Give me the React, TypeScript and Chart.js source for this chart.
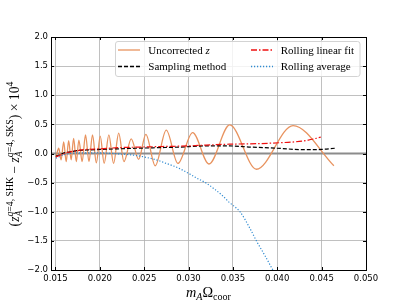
import React, { useEffect, useRef } from 'react';
import { Chart, registerables } from 'chart.js';

Chart.register(...registerables);

// ---------- data ----------
const xTicks = [0.015, 0.02, 0.025, 0.03, 0.035, 0.04, 0.045, 0.05];
const yTicks = [-2, -1.5, -1, -0.5, 0, 0.5, 1, 1.5, 2];
const xMin = 0.0145;
const xMax = 0.05;
const yMin = -2;
const yMax = 2;

const uncorrX = [
  0.01506, 0.01537, 0.01564, 0.01593, 0.01621, 0.01649, 0.01677, 0.01705, 0.01735, 0.01764,
  0.01801, 0.01839, 0.01878, 0.01918, 0.01961, 0.02005, 0.02049, 0.02102, 0.02155, 0.02213,
  0.02272, 0.02354, 0.02437, 0.02519, 0.02625, 0.02749, 0.0288, 0.03046, 0.0323, 0.03464,
  0.03765, 0.04178, 0.04638,
];
const uncorrY = [
  -0.065, 0.09, -0.11, 0.2, -0.14, 0.22, -0.11, 0.26, -0.14, 0.23,
  -0.14, 0.32, -0.14, 0.32, -0.16, 0.3, -0.17, 0.32, -0.17, 0.35,
  -0.14, 0.25, -0.1, 0.33, -0.21, 0.4, -0.17, 0.36, -0.18, 0.49,
  -0.27, 0.48, -0.21,
];

const samplingX = [
  0.01505, 0.0155, 0.016, 0.0167, 0.0175, 0.0185, 0.02, 0.022, 0.024, 0.0265,
  0.029, 0.032, 0.0346, 0.037, 0.04, 0.043, 0.045, 0.0465,
];
const samplingY = [
  -0.05, -0.02, 0.01, 0.03, 0.05, 0.06, 0.07, 0.08, 0.09, 0.1,
  0.11, 0.13, 0.13, 0.11, 0.09, 0.065, 0.07, 0.09,
];

const linfitX = [
  0.01505, 0.0155, 0.016, 0.0167, 0.0175, 0.0185, 0.02, 0.022, 0.0245, 0.027,
  0.03, 0.032, 0.0346, 0.038, 0.0403, 0.042, 0.0435, 0.0449,
];
const linfitY = [
  -0.06, -0.03, 0.0, 0.03, 0.05, 0.07, 0.08, 0.1, 0.11, 0.12,
  0.13, 0.145, 0.16, 0.17, 0.185, 0.2, 0.23, 0.28,
];

const rollavgX = [
  0.01505, 0.0155, 0.016, 0.0166, 0.0175, 0.0185, 0.02, 0.0215, 0.0233, 0.0247,
  0.0256, 0.0266, 0.0273, 0.0284, 0.029, 0.03, 0.0309, 0.032, 0.033, 0.0338,
  0.0346, 0.0358, 0.0369, 0.03765, 0.0386, 0.0395, 0.0404,
];
const rollavgY = [
  -0.08, -0.05, -0.02, 0.0, 0.01, 0.01, 0.01, 0.0, -0.02, -0.05,
  -0.08, -0.12, -0.16, -0.22, -0.26, -0.34, -0.42, -0.51, -0.62, -0.72,
  -0.84, -1.0, -1.28, -1.5, -1.75, -2.0, -2.25,
];

const seriesNames = ['Uncorrected', 'Sampling method', 'Rolling linear fit', 'Rolling average'];

// ---------- styles ----------
const SERIF = '"Liberation Serif", "DejaVu Serif", serif';
const SANS = '"DejaVu Sans", sans-serif';
const C_ORANGE = '#e8935f';
const C_BLACK = '#000000';
const C_RED = '#ee1111';
const C_BLUE = '#2f8ad0';
const DASH_BLACK = [4, 2];
const DASH_RED = [6, 2, 1.5, 2];
const DASH_BLUE = [1.2, 1.8];

const pts = (xs: number[], ys: number[]) => xs.map((x, i) => ({ x, y: ys[i] }));

type Run = { t: string; it?: boolean };
type Atom = { base: Run[]; sub?: Run[]; sup?: Run[] };

const fnt = (size: number, it?: boolean) => `${it ? 'italic ' : ''}${size}px ${SERIF}`;

function runsWidth(ctx: CanvasRenderingContext2D, runs: Run[] | undefined, size: number) {
  if (!runs) return 0;
  let w = 0;
  for (const r of runs) {
    ctx.font = fnt(size, r.it);
    w += ctx.measureText(r.t).width;
  }
  return w;
}
function drawRuns(ctx: CanvasRenderingContext2D, runs: Run[] | undefined, x: number, y: number, size: number) {
  if (!runs) return 0;
  let w = 0;
  for (const r of runs) {
    ctx.font = fnt(size, r.it);
    ctx.fillText(r.t, x + w, y);
    w += ctx.measureText(r.t).width;
  }
  return w;
}
function atomsWidth(ctx: CanvasRenderingContext2D, atoms: Atom[], main: number, script: number) {
  let w = 0;
  for (const a of atoms) {
    w += runsWidth(ctx, a.base, main) + Math.max(runsWidth(ctx, a.sub, script), runsWidth(ctx, a.sup, script));
  }
  return w;
}
function drawMath(
  ctx: CanvasRenderingContext2D,
  atoms: Atom[],
  cx: number,
  baseline: number,
  target: number,
) {
  let main = 12;
  let script = 8.5;
  const w0 = atomsWidth(ctx, atoms, main, script);
  const k = target / w0;
  main *= k;
  script *= k;
  const total = atomsWidth(ctx, atoms, main, script);
  let x = cx - total / 2;
  ctx.fillStyle = '#000';
  ctx.textBaseline = 'alphabetic';
  ctx.textAlign = 'left';
  for (const a of atoms) {
    const bw = drawRuns(ctx, a.base, x, baseline, main);
    x += bw;
    const sw = drawRuns(ctx, a.sub, x, baseline + main * 0.24, script);
    const pw = drawRuns(ctx, a.sup, x, baseline - main * 0.42, script);
    x += Math.max(sw, pw);
  }
}

const yTitle: Atom[] = [
  { base: [{ t: '(' }] },
  { base: [{ t: 'z', it: true }], sub: [{ t: 'A', it: true }], sup: [{ t: 'q', it: true }, { t: '=4, SHK' }] },
  { base: [{ t: ' \u2212 ' }] },
  { base: [{ t: 'z', it: true }], sub: [{ t: 'A', it: true }], sup: [{ t: 'q', it: true }, { t: '=4, SKS' }] },
  { base: [{ t: ') \u00d7 10' }], sup: [{ t: '4' }] },
];
const xTitle: Atom[] = [
  { base: [{ t: 'm', it: true }], sub: [{ t: 'A', it: true }] },
  { base: [{ t: '\u03a9' }], sub: [{ t: 'coor' }] },
];

const decor = {
  id: 'decor',
  beforeDatasetsDraw(chart: any) {
    const { ctx, chartArea: a, scales } = chart;
    const y0 = scales.y.getPixelForValue(0);
    ctx.save();
    ctx.strokeStyle = '#8c8c8c';
    ctx.lineWidth = 1.8;
    ctx.beginPath();
    ctx.moveTo(a.left, y0);
    ctx.lineTo(a.right, y0);
    ctx.stroke();
    ctx.restore();
  },
  afterDatasetsDraw(chart: any) {
    const { ctx, chartArea: a, scales } = chart;
    ctx.save();
    ctx.strokeStyle = '#000';
    ctx.lineWidth = 1;
    ctx.setLineDash([]);
    ctx.beginPath();
    for (const v of xTicks) {
      const p = Math.round(scales.x.getPixelForValue(v)) + 0.5;
      ctx.moveTo(p, a.bottom);
      ctx.lineTo(p, a.bottom - 3);
      ctx.moveTo(p, a.top);
      ctx.lineTo(p, a.top + 3);
    }
    for (const v of yTicks) {
      const p = Math.round(scales.y.getPixelForValue(v)) + 0.5;
      ctx.moveTo(a.left, p);
      ctx.lineTo(a.left + 3, p);
      ctx.moveTo(a.right, p);
      ctx.lineTo(a.right - 3, p);
    }
    ctx.stroke();
    ctx.strokeRect(Math.round(a.left) + 0.5, Math.round(a.top) + 0.5, Math.round(a.right - a.left), Math.round(a.bottom - a.top));
    ctx.restore();
  },
  afterDraw(chart: any) {
    const { ctx, chartArea: a } = chart;
    ctx.save();
    // legend
    const bx = 115.5, by = 41.5, bw = 244.5, bh = 35;
    ctx.beginPath();
    ctx.roundRect(bx, by, bw, bh, 2.5);
    ctx.fillStyle = 'rgba(255,255,255,0.82)';
    ctx.fill();
    ctx.strokeStyle = '#d3d3d3';
    ctx.lineWidth = 1;
    ctx.stroke();
    const rows = [50, 66.5];
    const items = [
      { col: 0, row: 0, color: C_ORANGE, dash: [] as number[], label: seriesNames[0], z: true },
      { col: 0, row: 1, color: C_BLACK, dash: DASH_BLACK, label: seriesNames[1], z: false },
      { col: 1, row: 0, color: C_RED, dash: DASH_RED, label: seriesNames[2], z: false },
      { col: 1, row: 1, color: C_BLUE, dash: DASH_BLUE, label: seriesNames[3], z: false },
    ];
    const cols = [{ l0: 118, l1: 140, tx: 148.3 }, { l0: 251, l1: 273, tx: 280.7 }];
    for (const it of items) {
      const c = cols[it.col];
      const ry = rows[it.row];
      ctx.beginPath();
      ctx.strokeStyle = it.color;
      ctx.lineWidth = 1.3;
      ctx.setLineDash(it.dash);
      ctx.moveTo(c.l0, ry);
      ctx.lineTo(c.l1, ry);
      ctx.stroke();
      ctx.setLineDash([]);
      ctx.fillStyle = '#000';
      ctx.textBaseline = 'alphabetic';
      ctx.textAlign = 'left';
      ctx.font = fnt(11);
      const txt = it.z ? it.label + ' ' : it.label;
      ctx.fillText(txt, c.tx, ry + 3.6);
      if (it.z) {
        const w = ctx.measureText(txt).width;
        ctx.font = fnt(11, true);
        ctx.fillText('z', c.tx + w, ry + 3.6);
      }
    }
    // axis titles
    drawMath(ctx, xTitle, (a.left + a.right) / 2, 297, 45);
    ctx.translate(18.5, (a.top + a.bottom) / 2 + 0.5);
    ctx.rotate(-Math.PI / 2);
    drawMath(ctx, yTitle, 0, 0, 145);
    ctx.restore();
  },
};

export default function App() {
  const ref = useRef<HTMLCanvasElement | null>(null);
  useEffect(() => {
    document.body.style.margin = '0';
    const canvas = ref.current;
    if (!canvas) return;
    const chart = new Chart(canvas, {
      type: 'line',
      data: {
        datasets: [
          {
            label: seriesNames[0],
            data: pts(uncorrX, uncorrY),
            borderColor: C_ORANGE,
            borderWidth: 1.3,
            cubicInterpolationMode: 'monotone',
            pointRadius: 0,
            fill: false,
            order: 10,
          },
          {
            label: seriesNames[1],
            data: pts(samplingX, samplingY),
            borderColor: C_BLACK,
            borderWidth: 1.2,
            borderDash: DASH_BLACK,
            cubicInterpolationMode: 'monotone',
            pointRadius: 0,
            fill: false,
            order: 2,
          },
          {
            label: seriesNames[2],
            data: pts(linfitX, linfitY),
            borderColor: C_RED,
            borderWidth: 1.2,
            borderDash: DASH_RED,
            cubicInterpolationMode: 'monotone',
            pointRadius: 0,
            fill: false,
            order: 1,
          },
          {
            label: seriesNames[3],
            data: pts(rollavgX, rollavgY),
            borderColor: C_BLUE,
            borderWidth: 1.2,
            borderDash: DASH_BLUE,
            cubicInterpolationMode: 'monotone',
            pointRadius: 0,
            fill: false,
            order: 3,
          },
        ] as any,
      },
      options: {
        animation: false,
        responsive: false,
        devicePixelRatio: 1,
        layout: { padding: { top: 37, right: 41, left: 0, bottom: 0 } },
        plugins: { legend: { display: false }, tooltip: { enabled: false }, title: { display: false } },
        scales: {
          x: {
            type: 'linear',
            min: xMin,
            max: xMax,
            afterBuildTicks: (s: any) => {
              s.ticks = xTicks.map((v) => ({ value: v }));
            },
            afterFit: (s: any) => {
              s.height = 35;
            },
            grid: { color: '#b0b0b0', lineWidth: 0.8, drawTicks: false },
            border: { display: false },
            ticks: {
              padding: 4,
              color: '#000',
              font: { family: SANS, size: 8.5 },
              maxRotation: 0,
              autoSkip: false,
              callback: (v: any) => Number(v).toFixed(3),
            },
          },
          y: {
            type: 'linear',
            min: yMin,
            max: yMax,
            afterBuildTicks: (s: any) => {
              s.ticks = yTicks.map((v) => ({ value: v }));
            },
            afterFit: (s: any) => {
              s.width = 51;
            },
            grid: { color: '#b0b0b0', lineWidth: 0.8, drawTicks: false },
            border: { display: false },
            ticks: {
              padding: 3,
              color: '#000',
              font: { family: SANS, size: 8.5 },
              autoSkip: false,
              callback: (v: any) => Number(v).toFixed(1).replace('-', '\u2212'),
            },
          },
        },
      },
      plugins: [decor],
    });
    return () => chart.destroy();
  }, []);
  return <canvas ref={ref} width={407} height={305} style={{ display: 'block', width: 407, height: 305 }} />;
}
